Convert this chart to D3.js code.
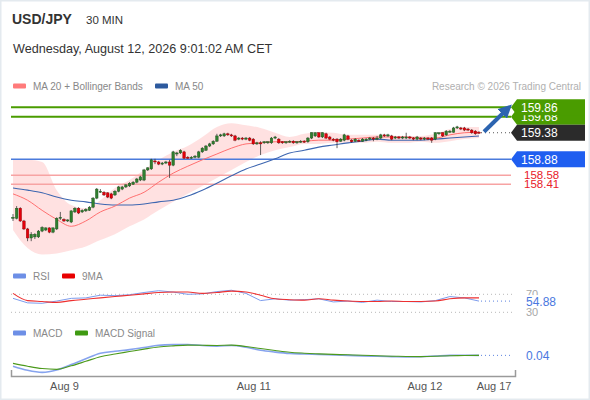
<!DOCTYPE html>
<html>
<head>
<meta charset="utf-8">
<script src="https://cdn.jsdelivr.net/npm/d3@7"></script>
<style>
  body { margin: 0; background: #fff; }
  text { font-family: "Liberation Sans", Arial, sans-serif; }
</style>
</head>
<body>
<svg id="chart" width="590" height="400"></svg>
<script>
(function () {
  "use strict";

  /***** Données *****/
  var candleOpen = [157.77,157.77,157.96,157.72,157.57,157.40,157.42,157.42,157.53,157.55,157.59,157.51,157.57,157.77,157.75,157.72,157.70,157.89,157.96,157.89,
    157.91,157.92,157.98,158.15,158.26,158.26,158.25,158.23,158.21,158.28,158.32,158.36,158.38,158.41,158.45,158.49,158.49,158.68,158.70,158.85,
    158.83,158.79,158.81,158.83,158.77,158.98,159.00,159.02,158.92,158.90,158.92,158.92,159.02,159.05,159.13,159.17,159.22,159.32,159.32,159.36,
    159.34,159.32,159.26,159.28,159.26,159.28,159.26,159.17,159.19,159.19,159.19,159.19,159.28,159.26,159.21,159.19,159.21,159.22,159.19,159.21,
    159.22,159.21,159.28,159.32,159.38,159.30,159.36,159.30,159.26,159.26,159.22,159.24,159.32,159.24,159.22,159.24,159.22,159.24,159.26,159.28,
    159.26,159.28,159.34,159.32,159.32,159.28,159.30,159.28,159.28,159.30,159.28,159.26,159.28,159.26,159.28,159.28,159.26,159.36,159.38,159.34,
    159.39,159.39,159.47,159.47,159.47,159.45,159.43,159.41,159.39];
  var candleClose = [157.79,157.96,157.72,157.57,157.40,157.47,157.47,157.53,157.60,157.59,157.51,157.59,157.77,157.79,157.72,157.74,157.91,157.96,157.87,157.92,
    157.94,157.98,158.15,158.32,158.28,158.21,158.17,158.15,158.28,158.36,158.36,158.40,158.43,158.45,158.51,158.55,158.68,158.72,158.87,158.83,
    158.79,158.81,158.83,158.77,159.02,159.00,159.05,158.90,158.90,158.92,158.94,159.02,159.09,159.13,159.17,159.22,159.32,159.34,159.36,159.34,
    159.32,159.24,159.28,159.26,159.28,159.24,159.17,159.19,159.17,159.21,159.21,159.28,159.30,159.19,159.19,159.21,159.22,159.19,159.21,159.22,
    159.21,159.28,159.38,159.38,159.30,159.38,159.28,159.26,159.24,159.21,159.26,159.34,159.26,159.21,159.26,159.22,159.26,159.26,159.28,159.26,
    159.28,159.34,159.32,159.34,159.26,159.30,159.28,159.30,159.30,159.28,159.26,159.30,159.26,159.28,159.26,159.24,159.38,159.38,159.32,159.41,
    159.41,159.47,159.49,159.45,159.43,159.43,159.38,159.36,159.38];
  var candleHigh = [157.85,158.00,157.98,157.74,157.59,157.51,157.49,157.55,157.62,157.60,157.60,157.60,157.79,157.89,157.77,157.75,157.92,157.98,157.98,157.94,
    157.96,158.00,158.17,158.34,158.32,158.28,158.26,158.25,158.30,158.38,158.38,158.41,158.45,158.47,158.53,158.57,158.70,158.73,158.89,158.89,
    158.85,158.83,158.85,158.87,159.04,159.02,159.07,159.04,158.94,158.94,158.96,159.04,159.11,159.15,159.19,159.24,159.36,159.36,159.38,159.38,
    159.36,159.34,159.30,159.30,159.30,159.30,159.28,159.21,159.22,159.22,159.22,159.30,159.32,159.28,159.22,159.22,159.24,159.24,159.22,159.24,
    159.24,159.30,159.39,159.39,159.39,159.39,159.38,159.32,159.28,159.28,159.28,159.36,159.34,159.26,159.28,159.26,159.28,159.28,159.30,159.30,
    159.32,159.36,159.36,159.36,159.34,159.32,159.32,159.32,159.38,159.32,159.30,159.32,159.30,159.30,159.30,159.30,159.39,159.39,159.39,159.43,
    159.43,159.49,159.51,159.49,159.49,159.47,159.45,159.43,159.41];
  var candleLow = [157.72,157.75,157.70,157.55,157.34,157.34,157.38,157.40,157.51,157.53,157.49,157.49,157.55,157.74,157.70,157.70,157.68,157.87,157.85,157.87,
    157.89,157.91,157.96,158.13,158.25,158.19,158.15,158.13,158.19,158.26,158.30,158.34,158.36,158.40,158.43,158.47,158.47,158.66,158.68,158.79,
    158.77,158.77,158.79,158.53,158.75,158.94,158.98,158.89,158.89,158.89,158.90,158.90,159.00,159.04,159.11,159.15,159.21,159.30,159.30,159.32,
    159.30,159.22,159.24,159.24,159.24,159.22,159.15,159.15,158.96,159.17,159.17,159.17,159.26,159.17,159.17,159.17,159.19,159.17,159.17,159.19,
    159.19,159.19,159.26,159.30,159.28,159.28,159.26,159.24,159.22,159.09,159.21,159.22,159.24,159.19,159.21,159.21,159.21,159.22,159.24,159.22,
    159.24,159.26,159.30,159.30,159.24,159.26,159.26,159.26,159.26,159.26,159.24,159.24,159.24,159.24,159.24,159.19,159.24,159.34,159.30,159.32,
    159.38,159.38,159.45,159.43,159.41,159.41,159.36,159.34,159.36];

  // Indicateurs (une valeur toutes les 4 bougies)
  var sampleIdx = [1,5,9,13,17,21,25,29,33,37,41,45,49,53,57,61,65,69,73,77,81,85,89,93,97,101,105,109,113,117,121,125,129];
  var ma20 = [158.23,158.11,157.92,157.75,157.62,157.72,157.89,158.00,158.15,158.26,158.45,158.62,158.75,158.87,158.98,159.09,159.17,
    159.19,159.21,159.21,159.22,159.24,159.24,159.26,159.28,159.30,159.30,159.30,159.28,159.28,159.34,159.38,159.39];
  var ma50 = [158.34,158.30,158.25,158.17,158.11,158.08,158.04,158.02,158.02,158.04,158.08,158.11,158.19,158.30,158.43,158.57,158.70,
    158.79,158.89,159.00,159.05,159.11,159.15,159.19,159.22,159.26,159.24,159.24,159.24,159.26,159.28,159.30,159.32];
  var bollUpper = [158.87,158.87,158.83,158.30,158.02,157.96,158.11,158.34,158.49,158.68,158.87,159.02,159.13,159.30,159.49,159.56,159.52,
    159.47,159.38,159.30,159.36,159.39,159.38,159.34,159.34,159.34,159.32,159.32,159.32,159.36,159.45,159.49,159.49];
  var bollLower = [157.55,157.21,157.09,157.11,157.17,157.24,157.36,157.47,157.62,157.75,157.92,158.08,158.23,158.38,158.53,158.68,158.83,
    158.96,159.05,159.11,159.17,159.17,159.19,159.19,159.19,159.21,159.19,159.19,159.21,159.19,159.22,159.26,159.28];
  var rsi = [61,51,50,55,61,62,68,67,69,74,78,75,70,71,76,79,72,56,60,57,58,60,53,55,52,57,54,54,53,56,65,62,54.88];
  var rsiMa = [72,56,54,52,56,59,62,65,68,71,74,75,75,72,74,77,75,68,60,58,57,60,57,55,54,54,55,54,54,55,60,62,62];
  var macd = [-0.040,-0.070,-0.085,-0.068,-0.028,0.015,0.055,0.070,0.082,0.098,0.114,0.119,0.120,0.112,0.108,0.113,0.100,
    0.077,0.064,0.054,0.050,0.046,0.043,0.040,0.036,0.033,0.031,0.029,0.030,0.035,0.040,0.041,0.040];
  var macdSignal = [-0.019,-0.040,-0.057,-0.063,-0.037,-0.004,0.030,0.050,0.068,0.086,0.102,0.110,0.115,0.114,0.113,0.115,0.105,
    0.090,0.076,0.063,0.056,0.051,0.047,0.044,0.041,0.037,0.034,0.032,0.031,0.033,0.037,0.039,0.040];

  var levelValues = [159.68, 159.86, 159.38, 158.88, 158.58, 158.41];
  var levelKinds  = ["res", "res", "last", "pivot", "sup", "sup"];

  var dayTickIdx = [15, 67, 114, 133];
  var dayTickLabels = ["Aug 9", "Aug 11", "Aug 12", "Aug 17"];

  /***** Configuration *****/
  var svg = d3.select("#chart");
  var lastIdx = candleClose.length;
  var rightEdge = 511;

  var x = d3.scaleLinear().domain([1, lastIdx]).range([13, 479]);
  var y = d3.scaleLinear().domain([157.08, 160.09]).range([255, 95]);
  var yRsi = d3.scaleLinear().domain([30, 70]).range([312.3, 294.3]);
  var yMacd = d3.scaleLinear().domain([-0.1, 0.15]).range([374.4, 340.4]);

  var candles = candleOpen.map(function (o, k) {
    return {i: k + 1, o: o, c: candleClose[k], h: candleHigh[k], l: candleLow[k]};
  });
  var samples = sampleIdx.map(function (i, k) {
    return {i: i, ma20: ma20[k], ma50: ma50[k], up: bollUpper[k], lo: bollLower[k],
            rsi: rsi[k], rsiMa: rsiMa[k], macd: macd[k], sig: macdSignal[k]};
  });

  // cadre
  svg.append("rect").attr("x", 0.5).attr("y", 0.5).attr("width", 589).attr("height", 399)
    .attr("fill", "#fff").attr("stroke", "#e4eaef").attr("stroke-width", 2);

  /***** En-tête *****/
  svg.append("text").attr("x", 12).attr("y", 24).attr("font-size", 14).attr("font-weight", "bold")
    .attr("fill", "#333").text("USD/JPY");
  svg.append("text").attr("x", 86).attr("y", 24).attr("font-size", 11.5).attr("fill", "#333").text("30 MIN");
  svg.append("text").attr("x", 13).attr("y", 53).attr("font-size", 12.6).attr("fill", "#333")
    .text("Wednesday, August 12, 2026 9:01:02 AM CET");

  function legendItem(xPos, yPos, color, label) {
    svg.append("rect").attr("x", xPos).attr("y", yPos - 2.5).attr("width", 13).attr("height", 5)
      .attr("rx", 1).attr("fill", color);
    svg.append("text").attr("x", xPos + 20).attr("y", yPos + 3.6).attr("font-size", 10)
      .attr("fill", "#888").text(label);
  }
  legendItem(13, 86, "#ff7b7b", "MA 20 + Bollinger Bands");
  legendItem(155, 86, "#2d5a9e", "MA 50");
  svg.append("text").attr("x", 581).attr("y", 89.6).attr("font-size", 10).attr("text-anchor", "end")
    .attr("fill", "#b0b0b0").text("Research \u00a9 2026 Trading Central");

  /***** Graphique principal *****/
  var main = svg.append("g");

  main.append("path").datum(samples)
    .attr("d", d3.area().x(function (d) { return x(d.i); })
      .y0(function (d) { return y(d.lo); }).y1(function (d) { return y(d.up); })
      .curve(d3.curveMonotoneX))
    .attr("fill", "#ffdcdc").attr("fill-opacity", 0.85);

  // niveaux horizontaux
  var levelColor = {res: "#4a9c00", last: "#2b2b2b", pivot: "#4b7bdc", sup: "#f7a3a3"};
  levelValues.forEach(function (v, k) {
    var kind = levelKinds[k];
    if (kind === "last") {
      main.append("line").attr("x1", x(lastIdx) + 2).attr("x2", rightEdge)
        .attr("y1", y(v)).attr("y2", y(v))
        .attr("stroke", "#555").attr("stroke-dasharray", "1,3");
      return;
    }
    main.append("line").attr("x1", 11).attr("x2", rightEdge).attr("y1", y(v)).attr("y2", y(v))
      .attr("stroke", levelColor[kind]).attr("stroke-width", kind === "res" ? 2 : 1.6);
  });

  var lineMa = function (key) {
    return d3.line().x(function (d) { return x(d.i); }).y(function (d) { return y(d[key]); })
      .curve(d3.curveMonotoneX);
  };
  main.append("path").datum(samples).attr("d", lineMa("ma50"))
    .attr("fill", "none").attr("stroke", "#3d66b0").attr("stroke-width", 1.1);
  main.append("path").datum(samples).attr("d", lineMa("ma20"))
    .attr("fill", "none").attr("stroke", "#ff7070").attr("stroke-width", 1);

  // bougies
  var bodyW = 2.6;
  var cg = main.append("g").selectAll("g").data(candles).join("g");
  cg.append("line")
    .attr("x1", function (d) { return x(d.i); }).attr("x2", function (d) { return x(d.i); })
    .attr("y1", function (d) { return y(d.h); }).attr("y2", function (d) { return y(d.l); })
    .attr("stroke", "#3a3a3a").attr("stroke-width", 0.8);
  cg.append("rect")
    .attr("x", function (d) { return x(d.i) - bodyW / 2; })
    .attr("y", function (d) { return y(Math.max(d.o, d.c)); })
    .attr("width", bodyW)
    .attr("height", function (d) { return Math.max(1, Math.abs(y(d.o) - y(d.c))); })
    .attr("fill", function (d) { return d.c >= d.o ? "#2f7f2f" : "#e3000b"; })
    .attr("stroke", function (d) { return d.c >= d.o ? "#1c4f1c" : "#8b0000"; })
    .attr("stroke-width", 0.4);

  // flèche
  var defs = svg.append("defs");
  defs.append("marker").attr("id", "head").attr("viewBox", "0 0 10 10").attr("refX", 5).attr("refY", 5)
    .attr("markerWidth", 3.4).attr("markerHeight", 3.4).attr("orient", "auto")
    .append("path").attr("d", "M0,0 L10,5 L0,10 Z").attr("fill", "#2c64b0");
  main.append("line").attr("x1", x(lastIdx) + 5).attr("y1", y(159.38) - 1)
    .attr("x2", 507).attr("y2", y(159.86) + 2)
    .attr("stroke", "#2c64b0").attr("stroke-width", 4).attr("marker-end", "url(#head)");

  // étiquettes de droite
  function tag(v, fill, label) {
    var yc = y(v);
    svg.append("path")
      .attr("d", "M" + rightEdge + "," + yc + " L517," + (yc - 8) + " L585," + (yc - 8) +
        " L585," + (yc + 8) + " L517," + (yc + 8) + " Z")
      .attr("fill", fill);
    svg.append("text").attr("x", 521).attr("y", yc + 4.3).attr("font-size", 12)
      .attr("fill", "#fff").text(label);
  }
  levelValues.forEach(function (v, k) {
    var kind = levelKinds[k];
    var lab = d3.format(".2f")(v);
    if (kind === "res") tag(v, "#4a9c00", lab);
    else if (kind === "last") tag(v, "#2b2b2b", lab);
    else if (kind === "pivot") tag(v, "#1f5ef0", lab);
    else {
      svg.append("rect").attr("x", 520).attr("y", y(v) - 5).attr("width", 44).attr("height", 10)
        .attr("fill", "#fff");
      svg.append("text").attr("x", 524).attr("y", y(v) + 4).attr("font-size", 11.5)
        .attr("fill", "#e8202a").text(lab);
    }
  });

  /***** RSI *****/
  legendItem(13, 276, "#6d8fe6", "RSI");
  legendItem(62, 276, "#e80000", "9MA");
  [70, 30].forEach(function (v) {
    svg.append("line").attr("x1", 11).attr("x2", 515).attr("y1", yRsi(v)).attr("y2", yRsi(v))
      .attr("stroke", "#b8b8b8").attr("stroke-dasharray", "1,3");
    svg.append("text").attr("x", 526).attr("y", yRsi(v) + 4).attr("font-size", 11)
      .attr("fill", "#a8a8a8").text(v);
  });
  svg.append("path").datum(samples)
    .attr("d", d3.line().x(function (d) { return x(d.i); }).y(function (d) { return yRsi(d.rsi); }))
    .attr("fill", "none").attr("stroke", "#7d9ced").attr("stroke-width", 1);
  svg.append("path").datum(samples)
    .attr("d", d3.line().x(function (d) { return x(d.i); }).y(function (d) { return yRsi(d.rsiMa); })
      .curve(d3.curveMonotoneX))
    .attr("fill", "none").attr("stroke", "#ee3030").attr("stroke-width", 1.1);
  var rsiLast = rsi[rsi.length - 1];
  svg.append("line").attr("x1", x(lastIdx) + 2).attr("x2", rightEdge)
    .attr("y1", yRsi(rsiLast)).attr("y2", yRsi(rsiLast))
    .attr("stroke", "#5b82e0").attr("stroke-dasharray", "1,3");
  svg.append("rect").attr("x", 520).attr("y", yRsi(rsiLast) - 6).attr("width", 40).attr("height", 12)
    .attr("fill", "#fff");
  svg.append("text").attr("x", 526).attr("y", yRsi(rsiLast) + 4.5).attr("font-size", 12)
    .attr("fill", "#4a78e0").text(d3.format(".2f")(rsiLast));

  /***** MACD *****/
  legendItem(13, 333, "#6d8fe6", "MACD");
  legendItem(75, 333, "#3f9a12", "MACD Signal");
  svg.append("path").datum(samples)
    .attr("d", d3.line().x(function (d) { return x(d.i); }).y(function (d) { return yMacd(d.macd); })
      .curve(d3.curveMonotoneX))
    .attr("fill", "none").attr("stroke", "#86a3ee").attr("stroke-width", 1.6);
  svg.append("path").datum(samples)
    .attr("d", d3.line().x(function (d) { return x(d.i); }).y(function (d) { return yMacd(d.sig); })
      .curve(d3.curveMonotoneX))
    .attr("fill", "none").attr("stroke", "#4c9a1c").attr("stroke-width", 1.1);
  var macdLast = macd[macd.length - 1];
  svg.append("line").attr("x1", x(lastIdx) + 2).attr("x2", rightEdge)
    .attr("y1", yMacd(macdLast)).attr("y2", yMacd(macdLast))
    .attr("stroke", "#5b82e0").attr("stroke-dasharray", "1,3");
  svg.append("text").attr("x", 526).attr("y", yMacd(macdLast) + 4.3).attr("font-size", 12)
    .attr("fill", "#4a78e0").text(d3.format(".2f")(macdLast));

  /***** Axe des dates *****/
  var xAxisScale = d3.scaleLinear().domain([x.invert(11), x.invert(515)]).range([11, 515]);
  var axis = svg.append("g").attr("transform", "translate(0,376)")
    .call(d3.axisBottom(xAxisScale).tickValues(dayTickIdx)
      .tickFormat(function (d, k) { return dayTickLabels[k]; })
      .tickSizeInner(0).tickSizeOuter(-6).tickPadding(6));
  axis.select(".domain").attr("stroke", "#9a9a9a").attr("stroke-width", 1.5);
  axis.selectAll("text").attr("font-size", 11).attr("fill", "#555")
    .style("font-family", "\"Liberation Sans\", Arial, sans-serif");
})();
</script>
</body>
</html>
